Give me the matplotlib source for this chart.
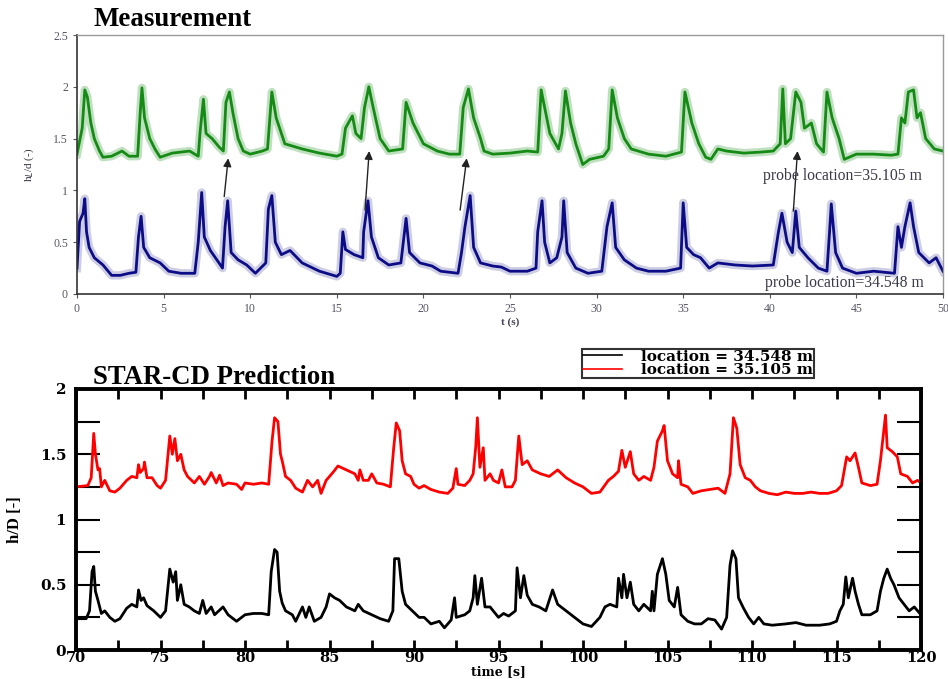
import numpy as np
import matplotlib
matplotlib.use("Agg")
import matplotlib.pyplot as plt
from matplotlib.lines import Line2D

green_t = [0, 0.3, 0.45, 0.6, 0.8, 1.0, 1.3, 1.5, 2.0, 2.6, 3.0, 3.5, 3.65, 3.75, 3.9, 4.2, 4.5, 4.8,
           5.5, 6.5, 7.0, 7.1, 7.3, 7.45, 7.8, 8.2, 8.45, 8.6, 8.8, 9.0, 9.3, 9.6, 10.0, 10.7, 11.0,
           11.25, 11.5, 12.0, 13.0, 14.0, 15.0, 15.3, 15.5, 15.9, 16.1, 16.4, 16.6, 16.85, 17.1, 17.5,
           18.0, 18.8, 19.0, 19.4, 20.0, 20.8, 21.5, 22.1, 22.3, 22.6, 22.9, 23.3, 23.5, 24.0, 25.0,
           26.0, 26.6, 26.8, 27.0, 27.3, 27.8, 28.0, 28.2, 28.5, 28.8, 29.2, 29.6, 30.4, 30.7, 30.9,
           31.2, 31.6, 32.0, 33.0, 34.0, 34.9, 35.1, 35.5, 35.9, 36.3, 36.6, 37.0, 37.5, 38.5, 39.5,
           40.2, 40.6, 40.75, 40.9, 41.2, 41.5, 41.8, 42.0, 42.4, 42.7, 43.1, 43.3, 43.6, 44.0, 44.3,
           45.0, 46.0, 47.0, 47.4, 47.6, 47.8, 48.0, 48.3, 48.5, 48.7, 49.0, 49.5, 50.0]
green_h = [1.35, 1.6, 1.97, 1.9, 1.65, 1.5, 1.38, 1.32, 1.33, 1.38, 1.33, 1.33, 1.75, 1.99, 1.7, 1.5, 1.4, 1.32,
           1.36, 1.38, 1.33, 1.55, 1.88, 1.55, 1.5, 1.42, 1.38, 1.85, 1.95, 1.75, 1.5, 1.38, 1.35, 1.38, 1.4,
           1.95, 1.7, 1.45, 1.4, 1.36, 1.33, 1.35, 1.6, 1.72, 1.55, 1.5, 1.8, 2.0, 1.8, 1.5,
           1.38, 1.4, 1.85, 1.65, 1.45, 1.38, 1.35, 1.35, 1.8, 1.98, 1.7, 1.5, 1.38, 1.35, 1.36,
           1.38, 1.37, 1.97, 1.8, 1.55, 1.4, 1.55, 1.96, 1.65, 1.45, 1.25, 1.3, 1.33, 1.4, 1.97,
           1.7, 1.5, 1.4, 1.35, 1.33, 1.37, 1.95, 1.65, 1.45, 1.32, 1.3, 1.4, 1.38, 1.36, 1.37,
           1.38, 1.45, 1.98, 1.45, 1.5, 1.95, 1.85, 1.6, 1.65, 1.45, 1.37, 1.95, 1.7, 1.5, 1.3,
           1.35, 1.35, 1.34, 1.35, 1.7, 1.65, 1.95, 1.97, 1.7, 1.75, 1.5, 1.4, 1.38]

blue_t = [0, 0.15, 0.35, 0.45, 0.55, 0.7, 1.0, 1.5, 2.0, 2.5, 3.0, 3.4, 3.55, 3.7, 3.85, 4.2, 4.8, 5.3,
          6.0, 6.8, 7.0, 7.2, 7.35, 7.7, 8.2, 8.4, 8.55, 8.7, 8.9, 9.3, 9.8, 10.3, 10.9, 11.05, 11.25,
          11.45, 11.8, 12.3, 13.0, 14.0, 15.0, 15.2, 15.35, 15.5, 16.0, 16.5, 16.55, 16.8, 17.0, 17.4,
          18.0, 18.7, 19.0, 19.2, 19.8, 20.5, 21.0, 22.0, 22.2, 22.4, 22.7, 22.9, 23.3, 24.0, 24.5,
          25.0, 26.0, 26.5, 26.6, 26.85, 27.0, 27.3, 27.7, 28.0, 28.1, 28.3, 28.8, 29.5, 30.3, 30.6,
          30.9, 31.1, 31.6, 32.3, 33.0, 34.0, 34.85, 35.0, 35.2, 35.6, 36.0, 36.5, 37.0, 38.0, 39.0,
          40.2, 40.5, 40.7, 41.0, 41.3, 41.5, 41.7, 42.2, 42.8, 43.3, 43.45, 43.55, 43.8, 44.2, 45.0,
          46.0, 47.2, 47.4, 47.6, 47.8, 48.1, 48.3, 48.6, 49.2, 49.6, 50.0]
blue_h = [0.25, 0.7, 0.78, 0.92, 0.6, 0.45, 0.35, 0.28, 0.18, 0.18, 0.2, 0.21, 0.55, 0.75, 0.45, 0.35, 0.3, 0.22,
          0.2, 0.2, 0.5, 0.98, 0.55, 0.42, 0.3, 0.25, 0.65, 0.9, 0.4, 0.33, 0.28, 0.2, 0.3, 0.82, 0.95,
          0.5, 0.38, 0.42, 0.3, 0.22, 0.17, 0.2, 0.6, 0.43, 0.38, 0.35, 0.6, 0.9, 0.55, 0.35,
          0.28, 0.3, 0.73, 0.4, 0.3, 0.27, 0.22, 0.2, 0.4, 0.65, 0.95, 0.45, 0.3, 0.27, 0.26,
          0.22, 0.22, 0.25, 0.6, 0.9, 0.5, 0.3, 0.35, 0.55, 0.9, 0.4, 0.25, 0.2, 0.22, 0.65,
          0.88, 0.45, 0.33, 0.25, 0.22, 0.22, 0.25, 0.88, 0.45, 0.38, 0.35, 0.25, 0.3, 0.28, 0.27,
          0.28, 0.6, 0.78, 0.5, 0.4, 0.8, 0.45, 0.35, 0.25, 0.22, 0.6, 0.87, 0.4, 0.25, 0.2,
          0.22, 0.2, 0.65, 0.45, 0.65, 0.88, 0.65, 0.4, 0.3, 0.35, 0.22]

# arrows linking the two probes: (t_start, h_start, t_end, h_end)
arrow_t0 = [8.5, 16.63, 22.12, 41.36]
arrow_h0 = [0.94, 0.81, 0.81, 0.80]
arrow_t1 = [8.73, 16.87, 22.5, 41.6]
arrow_h1 = [1.31, 1.38, 1.31, 1.38]

# ---- STAR-CD prediction (bottom panel) ----
red_t = [70, 70.7, 70.9, 71.0, 71.05, 71.15, 71.3, 71.4, 71.5, 71.7, 72.0, 72.3, 72.6, 73.0, 73.3, 73.6,
         73.7, 73.8, 74.0, 74.05, 74.2, 74.5, 74.8, 75.0, 75.3, 75.55, 75.7, 75.85, 76.0, 76.2, 76.4,
         76.6, 77.0, 77.3, 77.6, 77.9, 78.0, 78.3, 78.5, 78.7, 79.0, 79.5, 79.8, 80.0, 80.5, 81.0,
         81.4, 81.6, 81.75, 81.95, 82.1, 82.2, 82.4, 82.7, 83.0, 83.4, 83.7, 84.0, 84.3, 84.5, 84.8,
         85.2, 85.5, 86.0, 86.5, 86.7, 86.8, 87.0, 87.3, 87.5, 87.8, 88.2, 88.6, 88.8, 88.95, 89.15,
         89.3, 89.5, 89.8, 90.0, 90.3, 90.6, 91.0, 91.5, 92.0, 92.3, 92.5, 92.6, 93.0, 93.3, 93.5,
         93.65, 93.75, 93.9, 94.1, 94.2, 94.5, 94.7, 95.0, 95.2, 95.4, 95.8, 96.0, 96.2, 96.4, 96.7,
         97.0, 97.5, 98.0, 98.5, 99.0, 99.5, 100.0, 100.5, 101.0, 101.5, 101.8, 102.1, 102.3, 102.5,
         102.8, 103.0, 103.3, 103.6, 104.0, 104.2, 104.4, 104.7, 104.8, 105.0, 105.3, 105.6, 105.65,
         105.8, 106.2, 106.5, 107.0, 107.5, 108.0, 108.4, 108.7, 108.9, 109.1, 109.3, 109.6, 109.9,
         110.2, 110.5, 111.0, 111.5, 112.0, 112.5, 113.0, 113.5, 114.0, 114.5, 115.0, 115.3, 115.6,
         115.8, 116.1, 116.3, 116.5, 117.0, 117.4, 117.6, 117.9, 118.0, 118.3, 118.6, 118.8, 119.2,
         119.5, 119.8, 120.0]
red_h = [1.25, 1.26, 1.32, 1.55, 1.66, 1.5, 1.38, 1.39, 1.25, 1.3, 1.22, 1.21, 1.24, 1.3, 1.33, 1.32,
         1.42, 1.36, 1.39, 1.44, 1.32, 1.32, 1.26, 1.24, 1.3, 1.64, 1.5, 1.62, 1.45, 1.5, 1.38,
         1.33, 1.28, 1.33, 1.27, 1.33, 1.36, 1.28, 1.34, 1.26, 1.28, 1.27, 1.23, 1.28, 1.27, 1.28,
         1.27, 1.6, 1.78, 1.75, 1.5, 1.45, 1.33, 1.3, 1.24, 1.21, 1.3, 1.25, 1.3, 1.2, 1.3,
         1.36, 1.41, 1.38, 1.35, 1.3, 1.38, 1.3, 1.3, 1.35, 1.28, 1.27, 1.25, 1.55, 1.74, 1.68,
         1.45, 1.35, 1.33, 1.27, 1.24, 1.26, 1.23, 1.21, 1.2, 1.24, 1.39, 1.27, 1.26, 1.3, 1.35,
         1.55, 1.78, 1.4, 1.55, 1.3, 1.35, 1.3, 1.28, 1.38, 1.25, 1.25, 1.3, 1.64, 1.42, 1.45,
         1.38, 1.35, 1.33, 1.38, 1.32, 1.28, 1.25, 1.2, 1.21, 1.3, 1.33, 1.37, 1.53, 1.4,
         1.52, 1.35, 1.3, 1.33, 1.3, 1.4, 1.6, 1.68, 1.72, 1.45, 1.35, 1.32, 1.45,
         1.27, 1.25, 1.2, 1.22, 1.23, 1.24, 1.2, 1.35, 1.78, 1.7, 1.42, 1.32, 1.3,
         1.25, 1.22, 1.2, 1.19, 1.21, 1.2, 1.2, 1.21, 1.2, 1.2, 1.22, 1.26, 1.48,
         1.45, 1.51, 1.4, 1.28, 1.26, 1.27, 1.45, 1.8, 1.55, 1.52, 1.48, 1.35, 1.33,
         1.28, 1.3, 1.28]

black_t = [70, 70.6, 70.8, 70.95, 71.05, 71.15, 71.3, 71.5, 71.7, 72.0, 72.3, 72.6, 73.0, 73.3, 73.6,
           73.7, 73.85, 74.0, 74.2, 74.6, 75.0, 75.3, 75.55, 75.75, 75.9, 76.0, 76.2, 76.4, 76.7,
           77.0, 77.3, 77.5, 77.7, 78.0, 78.2, 78.7, 79.0, 79.5, 80.0, 80.5, 81.0, 81.4, 81.55, 81.75,
           81.9, 82.05, 82.2, 82.4, 82.8, 83.0, 83.4, 83.6, 83.8, 84.1, 84.5, 84.8, 85.0, 85.3, 85.6,
           86.0, 86.5, 86.7, 87.0, 87.5, 88.0, 88.5, 88.75, 88.85, 89.1, 89.3, 89.5, 89.9, 90.3, 90.6,
           91.0, 91.5, 91.8, 92.2, 92.4, 92.5, 93.0, 93.3, 93.5, 93.6, 93.75, 94.0, 94.2, 94.5, 95.0,
           95.3, 95.6, 96.0, 96.1, 96.3, 96.5, 96.7, 97.0, 97.4, 97.8, 98.2, 98.5, 99.0, 99.5, 100.0,
           100.5, 101.0, 101.3, 101.6, 102.0, 102.1, 102.3, 102.4, 102.6, 102.8, 103.0, 103.3, 103.6,
           104.0, 104.1, 104.2, 104.4, 104.7, 104.9, 105.1, 105.4, 105.6, 105.8, 106.2, 106.6, 107.0,
           107.4, 107.8, 108.2, 108.5, 108.7, 108.85, 109.05, 109.2, 109.5, 109.8, 110.1, 110.4, 110.7,
           111.2, 112.0, 112.6, 113.2, 114.0, 114.6, 115.0, 115.2, 115.4, 115.55, 115.7, 115.95, 116.1,
           116.3, 116.5, 117.0, 117.4, 117.6, 117.8, 118.0, 118.2, 118.4, 118.7, 119.0, 119.3, 119.6,
           120.0]
black_h = [0.24, 0.24, 0.3, 0.6, 0.64, 0.45, 0.38, 0.28, 0.3, 0.25, 0.22, 0.24, 0.32, 0.35, 0.33,
           0.46, 0.38, 0.4, 0.34, 0.3, 0.25, 0.3, 0.62, 0.52, 0.6, 0.38, 0.5, 0.35, 0.33,
           0.3, 0.28, 0.38, 0.28, 0.33, 0.27, 0.33, 0.27, 0.22, 0.27, 0.28, 0.28, 0.27, 0.6, 0.77,
           0.75, 0.45, 0.36, 0.3, 0.27, 0.22, 0.33, 0.25, 0.33, 0.22, 0.25, 0.33, 0.43, 0.4, 0.38,
           0.33, 0.3, 0.35, 0.3, 0.27, 0.24, 0.22, 0.3, 0.7, 0.7, 0.45, 0.35, 0.3, 0.25, 0.25,
           0.2, 0.22, 0.17, 0.23, 0.4, 0.25, 0.27, 0.3, 0.4, 0.57, 0.35, 0.55, 0.33, 0.33, 0.25,
           0.28, 0.26, 0.3, 0.63, 0.4, 0.57, 0.42, 0.35, 0.33, 0.3, 0.46, 0.35, 0.3, 0.25, 0.2,
           0.18, 0.25, 0.33, 0.35, 0.33, 0.55, 0.4, 0.58, 0.4, 0.52, 0.35, 0.3, 0.35,
           0.3, 0.45, 0.3, 0.58, 0.7, 0.58, 0.38, 0.33, 0.48, 0.27, 0.22, 0.2, 0.2,
           0.24, 0.23, 0.16, 0.25, 0.65, 0.76, 0.7, 0.4, 0.32, 0.25, 0.2, 0.25, 0.2,
           0.19, 0.2, 0.21, 0.19, 0.19, 0.2, 0.22, 0.3, 0.35, 0.56, 0.4, 0.55, 0.45,
           0.35, 0.27, 0.27, 0.3, 0.45, 0.55, 0.62, 0.55, 0.5, 0.4, 0.35, 0.3, 0.33,
           0.27]

SERIF = ["Liberation Serif", "DejaVu Serif"]
WIDE = ["DejaVu Serif"]
plt.rcParams["font.family"] = SERIF

fig = plt.figure(figsize=(9.48, 6.79), dpi=100)

# ---------------- top: measurement ----------------
ax1 = fig.add_axes([77 / 948, 1 - 294 / 679, 866 / 948, 259 / 679])
# wide pale band stands in for the signal noise, dark line on top
ax1.plot(green_t, green_h, color="#8cc88c", lw=6.0, alpha=0.55)
ax1.plot(green_t, green_h, color="#158a15", lw=2.0)
ax1.plot(blue_t, blue_h, color="#a4a4cc", lw=6.0, alpha=0.55)
ax1.plot(blue_t, blue_h, color="#0c0c86", lw=2.0)
for t0, h0, t1, h1 in zip(arrow_t0, arrow_h0, arrow_t1, arrow_h1):
    ax1.annotate("", xy=(t1, h1), xytext=(t0, h0),
                 arrowprops=dict(arrowstyle="-|>", color="#222222", lw=1.0,
                                 mutation_scale=12, shrinkA=0, shrinkB=0))
ax1.text(44.2, 1.14, "probe location=35.105 m", fontsize=11.3, color="#3a3a4a",
         ha="center", va="center")
ax1.text(44.3, 0.11, "probe location=34.548 m", fontsize=11.3, color="#3a3a4a",
         ha="center", va="center")
ax1.set_xlim(0, 50)
ax1.set_ylim(0, 2.5)
ax1.set_xticks(np.arange(0, 51, 5))
ax1.set_yticks([0, 0.5, 1, 1.5, 2, 2.5])
ax1.set_yticklabels(["0", "0.5", "1", "1.5", "2", "2.5"])
ax1.tick_params(labelsize=8.5, colors="#555566", length=3, width=0.8, direction="out")
for side in ("left", "bottom"):
    ax1.spines[side].set_color("#333333")
    ax1.spines[side].set_linewidth(1.2)
for side in ("top", "right"):
    ax1.spines[side].set_color("#999999")
    ax1.spines[side].set_linewidth(1.0)
ax1.set_xlabel("t (s)", fontsize=8, fontweight="bold", color="#444455", labelpad=2)
ax1.set_ylabel("h$_L$/d (-)", fontsize=8, color="#333344", labelpad=12)
fig.text(93 / 948, 1 - 19 / 679, "Measurement", fontsize=19.4, fontweight="bold",
         ha="left", va="center")

# ---------------- bottom: STAR-CD ----------------
ax2 = fig.add_axes([76 / 948, 1 - 650 / 679, 845 / 948, 261 / 679])
ax2.plot(black_t, black_h, color="black", lw=2.0)
ax2.plot(red_t, red_h, color="red", lw=2.0)
ax2.set_xlim(70, 120)
ax2.set_ylim(0, 2)
ax2.set_xticks(np.arange(70, 121, 5))
ax2.set_xticks(np.arange(70, 121, 2.5), minor=True)
ax2.set_yticks([0, 0.5, 1, 1.5, 2])
ax2.set_yticklabels(["0", "0.5", "1", "1.5", "2"])
ax2.set_yticks(np.arange(0, 2.01, 0.25), minor=True)
ax2.tick_params(axis="x", which="both", direction="in", top=True, length=7, width=2,
                labelsize=10.5, pad=1)
ax2.tick_params(axis="y", which="both", direction="in", right=True, length=17, width=1.5,
                labelsize=11, pad=7)
for lab in ax2.get_xticklabels() + ax2.get_yticklabels():
    lab.set_fontweight("bold")
    lab.set_family(WIDE)
for side in ax2.spines.values():
    side.set_linewidth(2.8)
ax2.set_xlabel("time [s]", fontsize=9, fontweight="bold", family=WIDE, labelpad=0)
ax2.set_ylabel("h/D [-]", fontsize=12, fontweight="bold", labelpad=12)
fig.text(93 / 948, 1 - 377 / 679, "STAR-CD Prediction", fontsize=19.3, fontweight="bold",
         ha="left", va="center")

leg = fig.legend([Line2D([], [], color="black", lw=1.2), Line2D([], [], color="red", lw=1.2)],
                 ["location = 34.548 m", "location = 35.105 m"],
                 loc="upper left", bbox_to_anchor=(582 / 948, 1 - 349 / 679),
                 frameon=True, fancybox=False, prop={"family": WIDE, "weight": "bold", "size": 11},
                 handlelength=2.6, borderpad=0.05, labelspacing=-0.05, handletextpad=1.2,
                 borderaxespad=0)
leg.get_frame().set_edgecolor("black")
leg.get_frame().set_linewidth(1.5)

fig.savefig("out.png", dpi=100)
